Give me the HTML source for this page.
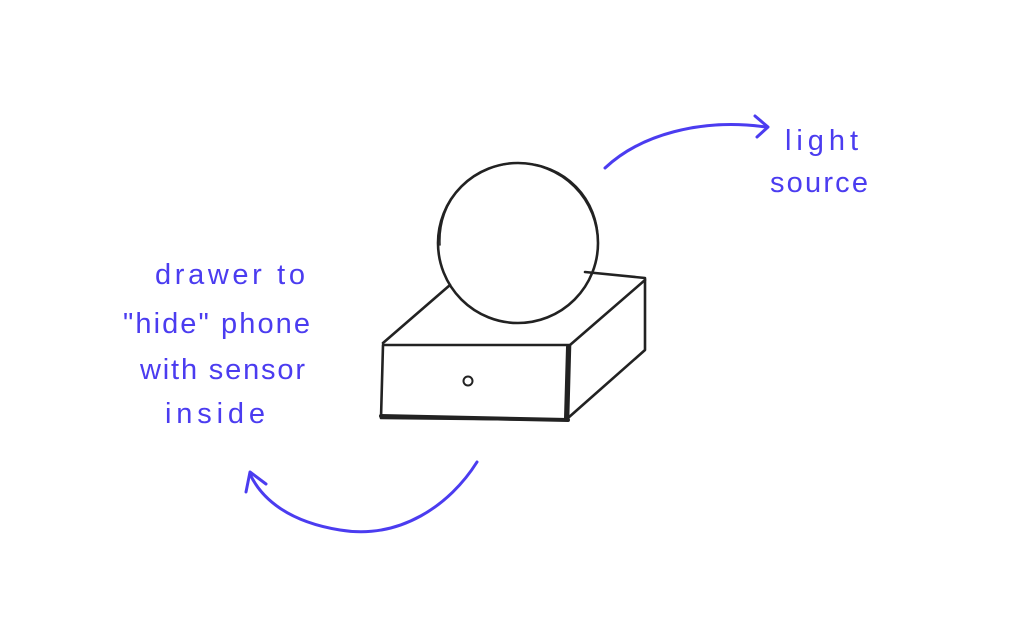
<!DOCTYPE html>
<html><head><meta charset="utf-8"><style>
html,body{margin:0;padding:0;background:#fff;}
svg{display:block}
text{font-family:"Liberation Sans",sans-serif;fill:#4b3cf0;font-size:29px}
</style></head><body>
<svg width="1024" height="638" viewBox="0 0 1024 638">
<g fill="none" stroke="#222" stroke-width="2.6" stroke-linecap="round" stroke-linejoin="round">
<ellipse cx="518" cy="243" rx="80" ry="80"/>
<path d="M440 245 C438 200 470 165 518 163 C565 162 600 200 598 243" stroke-width="1.5"/>
<path d="M383 345 L570 345 L568 420 L381 418 Z"/>
<path d="M383 343 L450 285"/>
<path d="M585 272 L645 278 L645 350 L568 418"/>
<path d="M570 345 L645 280"/>
<path d="M381 416 L568 420" stroke-width="4"/>
<path d="M568 347 L566 418" stroke-width="4"/>
<circle cx="468" cy="381" r="4.5" stroke-width="2"/>
</g>
<g fill="none" stroke="#4b3cf0" stroke-width="3" stroke-linecap="round" stroke-linejoin="round">
<path d="M605 168 C640 135 700 118 766 127"/>
<path d="M755 116 L768 127 L757 137"/>
<path d="M477 462 C450 505 400 540 340 530 C290 522 262 500 250 474"/>
<path d="M246 492 L250 472 L266 484"/>
</g>
<text x="785" y="150" textLength="73" lengthAdjust="spacing">light</text>
<text x="770" y="192" textLength="98" lengthAdjust="spacing">source</text>
<text x="155" y="284" textLength="150" lengthAdjust="spacing">drawer to</text>
<text x="123" y="333" textLength="187" lengthAdjust="spacing">"hide" phone</text>
<text x="140" y="379" textLength="165" lengthAdjust="spacing">with sensor</text>
<text x="165" y="423" textLength="100" lengthAdjust="spacing">inside</text>
</svg>
</body></html>
